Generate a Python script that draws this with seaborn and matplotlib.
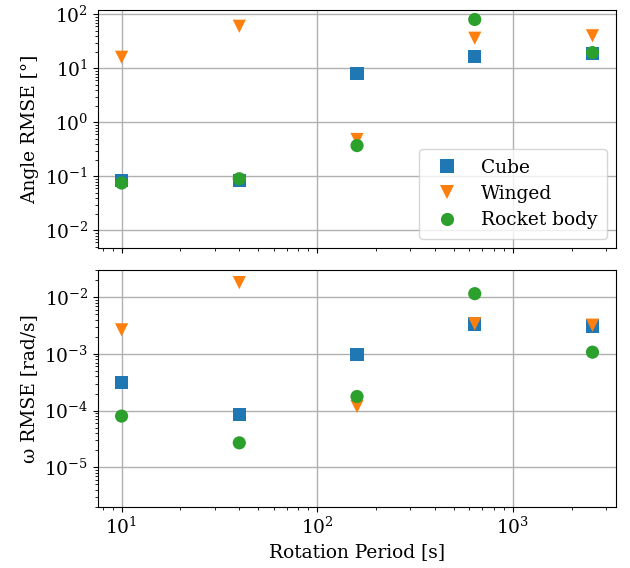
import numpy as np
import pandas as pd
import matplotlib
matplotlib.use('Agg')
import matplotlib.pyplot as plt
import matplotlib.ticker as mticker
import seaborn as sns

periods = [10, 40, 160, 640, 2560]
shapes = ['Cube', 'Winged', 'Rocket body']

angle_cube = [0.085, 0.085, 8.1, 16.7, 19.0]
angle_winged = [16.0, 60.0, 0.48, 36.0, 40.0]
angle_rocket = [0.075, 0.09, 0.37, 80.0, 19.5]

omega_cube = [3.1e-4, 8.4e-5, 9.6e-4, 3.35e-3, 3.1e-3]
omega_winged = [2.65e-3, 1.8e-2, 1.18e-4, 3.4e-3, 3.2e-3]
omega_rocket = [8.0e-5, 2.7e-5, 1.77e-4, 1.15e-2, 1.07e-3]

rows = []
for name, a, w in zip(shapes, [angle_cube, angle_winged, angle_rocket],
                      [omega_cube, omega_winged, omega_rocket]):
    for p, av, wv in zip(periods, a, w):
        rows.append({'period': p, 'shape': name, 'angle': av, 'omega': wv})
df = pd.DataFrame(rows)

plt.rcParams['font.family'] = 'DejaVu Serif'
plt.rcParams['mathtext.fontset'] = 'dejavuserif'
plt.rcParams['font.size'] = 13.4

markers = {'Cube': 's', 'Winged': 'v', 'Rocket body': 'o'}
palette = {'Cube': '#1f77b4', 'Winged': '#ff7f0e', 'Rocket body': '#2ca02c'}

fig = plt.figure(figsize=(6.3, 5.68), dpi=100)
ax1 = fig.add_axes([0.1556, 0.5634, 0.8222, 0.419])
ax2 = fig.add_axes([0.1556, 0.1074, 0.8222, 0.4172], sharex=ax1)

sns.scatterplot(data=df, x='period', y='angle', hue='shape', style='shape',
                markers=markers, palette=palette, s=90, linewidth=0, ax=ax1)
sns.scatterplot(data=df, x='period', y='omega', hue='shape', style='shape',
                markers=markers, palette=palette, s=90, linewidth=0, ax=ax2,
                legend=False)

for ax in (ax1, ax2):
    ax.set_xscale('log')
    ax.set_yscale('log')
    ax.yaxis.set_major_locator(mticker.LogLocator(base=10, numticks=20))
    ax.yaxis.set_minor_locator(mticker.LogLocator(base=10, subs=np.arange(2, 10), numticks=20))
    ax.yaxis.set_minor_formatter(mticker.NullFormatter())
    ax.grid(True, color='#b0b0b0', linewidth=1.0)
    ax.set_axisbelow(True)

ax1.set_ylim(4.7e-3, 1.2e2)
ax2.set_ylim(2e-6, 3e-2)
ax1.tick_params(labelbottom=False)
ax1.set_xlabel('')
ax1.set_ylabel('Angle RMSE [°]')
ax2.set_ylabel('ω RMSE [rad/s]')
ax2.set_xlabel('Rotation Period [s]')

leg = ax1.legend(loc='lower right', fontsize=13.4, borderpad=0.5, labelspacing=0.45)
leg.get_frame().set_edgecolor('#cccccc')

fig.savefig('out.png', dpi=100)
